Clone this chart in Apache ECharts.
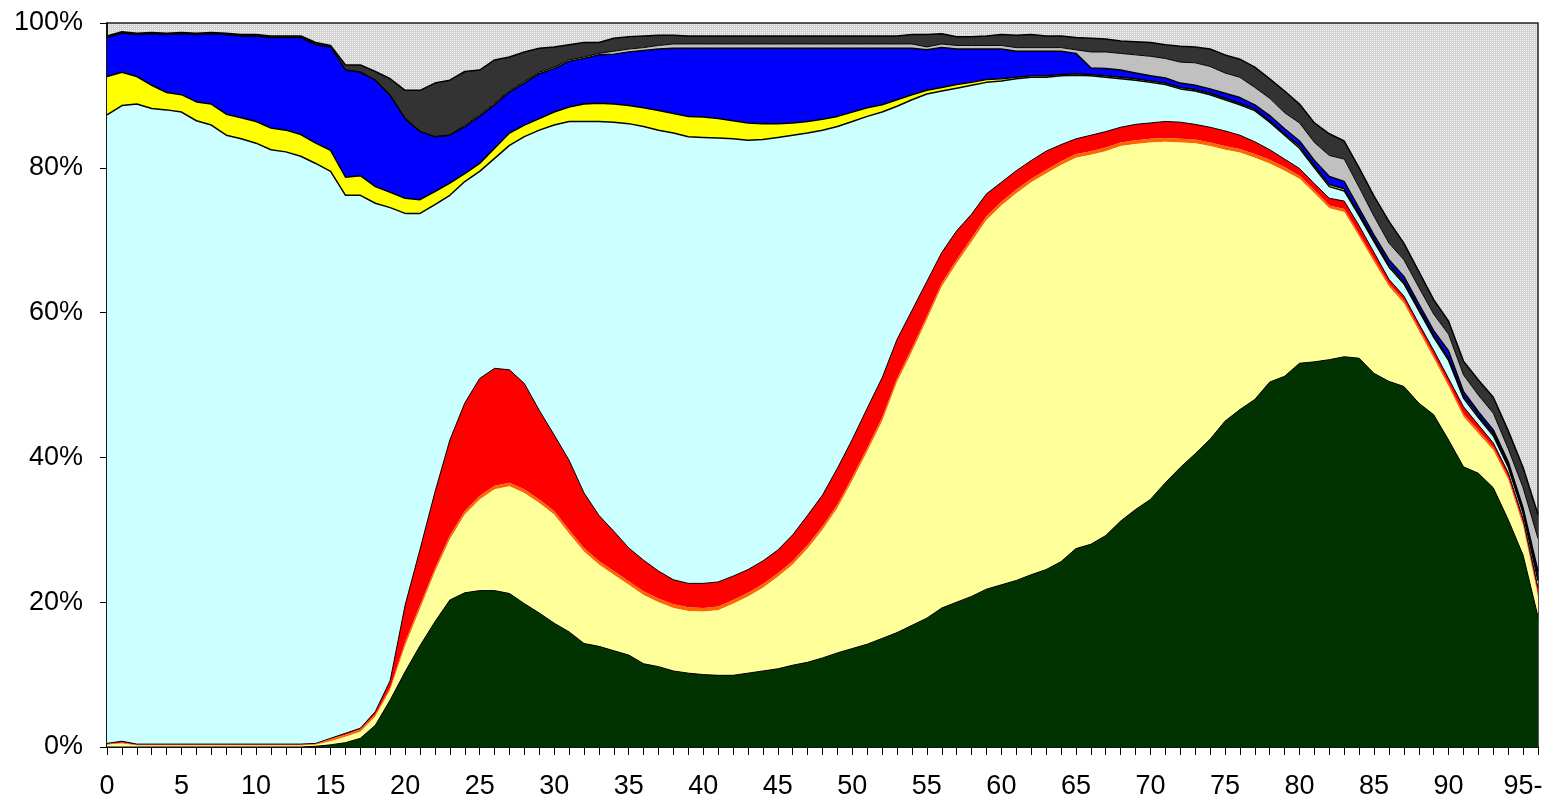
<!DOCTYPE html>
<html>
<head>
<meta charset="utf-8">
<script src="https://cdn.jsdelivr.net/npm/echarts@6/dist/echarts.min.js"></script>
<style>
  html, body { margin: 0; padding: 0; background: #fff; }
  #main { width: 1560px; height: 803px; }
</style>
</head>
<body>
<div id="main"></div>
<script>
// age categories 0 .. 95-, plus the closing point at the right edge
const ages = [];
for (let i = 0; i < 95; i++) ages.push(String(i));
ages.push('95-', '');

// shares (%) per age, bottom layer first
const green = [
  0, 0, 0, 0, 0, 0, 0, 0, 0, 0,
  0, 0, 0, 0, 0.1, 0.3, 0.6, 1.2, 3, 6.5,
  10.4, 14, 17.3, 20.3, 21.3, 21.6, 21.6, 21.2, 19.8, 18.5,
  17.1, 15.9, 14.3, 13.9, 13.3, 12.7, 11.5, 11.1, 10.5, 10.2,
  10, 9.9, 9.9, 10.2, 10.5, 10.8, 11.3, 11.7, 12.3, 13,
  13.6, 14.2, 15, 15.8, 16.8, 17.8, 19.2, 20, 20.8, 21.8,
  22.4, 23, 23.8, 24.5, 25.6, 27.4, 28, 29.2, 31.2, 32.8,
  34.2, 36.5, 38.6, 40.5, 42.5, 45, 46.6, 48, 50.4, 51.2,
  53, 53.2, 53.5, 53.9, 53.7, 51.6, 50.5, 49.8, 47.5, 45.9,
  42.4, 38.7, 37.8, 35.8, 31.4, 26.5, 18
];
const lightYellow = [
  0.3, 0.5, 0.2, 0.2, 0.2, 0.2, 0.2, 0.2, 0.2, 0.2,
  0.2, 0.2, 0.2, 0.2, 0.2, 0.5, 0.8, 0.9, 1.2, 1.4,
  3.6, 5.1, 6.9, 8.4, 10.8, 12.6, 14, 14.8, 15.3, 15.2,
  15, 13.6, 12.7, 11.3, 10.5, 9.7, 9.5, 8.9, 8.7, 8.6,
  8.7, 9, 9.9, 10.6, 11.5, 12.7, 13.9, 15.7, 17.7, 20,
  23.2, 26.6, 30, 34.6, 37.8, 41.2, 44.4, 46.8, 49, 51,
  52.4, 53.5, 54.2, 54.7, 54.8, 54, 53.8, 53.1, 51.8, 50.5,
  49.3, 47.1, 44.9, 42.9, 40.5, 37.5, 35.5, 33.4, 30.2, 28.4,
  25.5, 23.3, 20.9, 20, 16.8, 15.4, 13.1, 11.5, 10, 7.8,
  7.4, 6.9, 5.5, 5.2, 5.5, 4, 2.8
];
const orange = [
  0.1, 0.1, 0.1, 0.1, 0.1, 0.1, 0.1, 0.1, 0.1, 0.1,
  0.1, 0.1, 0.1, 0.1, 0.1, 0.3, 0.3, 0.3, 0.3, 0.3,
  0.5, 0.5, 0.5, 0.5, 0.5, 0.5, 0.5, 0.5, 0.5, 0.5,
  0.5, 0.5, 0.5, 0.5, 0.5, 0.5, 0.5, 0.5, 0.5, 0.5,
  0.5, 0.5, 0.5, 0.5, 0.5, 0.5, 0.5, 0.5, 0.5, 0.5,
  0.5, 0.5, 0.5, 0.5, 0.5, 0.5, 0.5, 0.5, 0.5, 0.5,
  0.5, 0.5, 0.5, 0.5, 0.5, 0.5, 0.5, 0.5, 0.5, 0.5,
  0.5, 0.5, 0.5, 0.5, 0.5, 0.5, 0.5, 0.5, 0.5, 0.5,
  0.4, 0.4, 0.4, 0.4, 0.4, 0.4, 0.4, 0.4, 0.4, 0.4,
  0.4, 0.4, 0.4, 0.4, 0.4, 0.4, 0.4
];
const red = [
  0.1, 0.2, 0.1, 0.1, 0.1, 0.1, 0.1, 0.1, 0.1, 0.1,
  0.1, 0.1, 0.1, 0.1, 0.1, 0.1, 0.2, 0.2, 0.4, 1,
  5.1, 7.7, 10.5, 13.2, 14.9, 16.2, 16.2, 15.6, 14.6, 12.3,
  10.5, 9.6, 7.6, 6.3, 5.5, 4.6, 4.3, 3.8, 3.4, 3.3,
  3.4, 3.4, 3.3, 3.2, 3.2, 3.2, 3.6, 4.1, 4.3, 5,
  5.2, 5.5, 5.5, 5.4, 5.2, 4.8, 4.2, 4, 3.3, 3.1,
  2.7, 2.6, 2.5, 2.6, 2.3, 2.1, 2.2, 2.2, 2.1, 2.2,
  2.2, 2.3, 2.3, 2.1, 2.1, 2.1, 1.9, 1.7, 1.4, 1.1,
  1, 0.9, 1, 1.1, 1.1, 0.9, 0.6, 0.6, 0.6, 0.7,
  0.7, 1, 0.8, 0.6, 0.6, 0.6, 0.8
];
const cyan = [
  86.8, 87.8, 88.4, 87.8, 87.6, 87.3, 86.1, 85.5, 84.1, 83.6,
  83, 82.1, 81.8, 81.2, 80.1, 78.3, 74.3, 73.6, 70.2, 65.3,
  54.1, 46.4, 39.7, 33.8, 30.6, 28.6, 29, 31, 34.1, 38.7,
  42.8, 46.8, 51.3, 54.4, 56.5, 58.6, 59.9, 60.9, 61.7, 61.7,
  61.6, 61.3, 60.4, 59.3, 58.2, 57, 55.2, 52.8, 50.4, 47.2,
  43.9, 40.3, 36.7, 32.2, 29.1, 25.9, 22.3, 19.7, 17.8, 15.4,
  14, 12.7, 11.5, 10.2, 9.5, 8.8, 8.2, 7.5, 6.7, 6.1,
  5.6, 5.1, 4.6, 4.6, 4.5, 4.3, 4.2, 4.3, 3.8, 3.3,
  2.8, 2.2, 1.6, 1.4, 1.4, 1.5, 1.7, 1.7, 1.8, 1.8,
  2.5, 1.2, 1, 1, 0.8, 0.8, 1
];
const yellow = [
  5.3, 4.6, 3.8, 3.2, 2.4, 2.4, 2.6, 2.9, 2.9, 2.9,
  3, 3, 3, 3, 2.8, 2.9, 2.5, 2.7, 2.3, 2.1,
  2.1, 1.9, 1.8, 1.7, 1.1, 1.1, 1.4, 1.7, 1.6, 1.6,
  1.8, 2, 2.4, 2.5, 2.5, 2.5, 2.6, 2.7, 2.7, 2.8,
  2.8, 2.7, 2.5, 2.4, 2.2, 1.9, 1.7, 1.6, 1.5, 1.4,
  1.3, 1.2, 1, 0.9, 0.7, 0.5, 0.5, 0.5, 0.4, 0.4,
  0.3, 0.2, 0.2, 0.2, 0.2, 0.2, 0.2, 0.2, 0.2, 0.2,
  0.2, 0.2, 0.2, 0.2, 0.2, 0.2, 0.2, 0.2, 0.2, 0.2,
  0.3, 0.3, 0.3, 0.3, 0.3, 0.3, 0.3, 0.3, 0.3, 0.3,
  0.3, 0.3, 0.3, 0.3, 0.3, 0.3, 0.3
];
const blue = [
  5.4, 5.4, 5.8, 7.1, 8, 8.4, 9.3, 9.7, 11, 11.3,
  11.8, 12.5, 12.8, 13.4, 13.6, 14.3, 14.8, 14.3, 14.7, 13.4,
  11, 9.4, 7.6, 6.6, 6.5, 6.5, 6, 5.7, 5.8, 6.2,
  6, 6.3, 6.3, 6.7, 6.9, 7.4, 7.9, 8.5, 9, 9.4,
  9.5, 9.7, 10, 10.3, 10.4, 10.4, 10.3, 10.1, 9.8, 9.4,
  8.8, 8.2, 7.8, 7.1, 6.4, 5.6, 5.5, 4.9, 4.6, 4.2,
  4.1, 3.6, 3.4, 3.4, 3.2, 2.8, 0.9, 1, 1, 0.8,
  0.7, 0.7, 0.6, 0.6, 0.6, 0.7, 0.8, 0.6, 0.7, 0.7,
  0.7, 0.7, 1.1, 1, 0.7, 0.6, 0.7, 0.7, 0.6, 0.6,
  1, 0.6, 0.5, 0.5, 0.4, 0.4, 1
];
const lightGray = [
  0, 0, 0, 0, 0, 0, 0, 0, 0, 0,
  0, 0, 0, 0, 0, 0, 0, 0, 0, 0,
  0, 0, 0, 0, 0.2, 0.2, 0.2, 0.2, 0.2, 0.2,
  0.2, 0.2, 0.2, 0.2, 0.4, 0.4, 0.4, 0.5, 0.6, 0.6,
  0.6, 0.6, 0.6, 0.6, 0.6, 0.6, 0.6, 0.6, 0.6, 0.6,
  0.6, 0.6, 0.6, 0.6, 0.6, 0.4, 0.5, 0.5, 0.5, 0.5,
  0.5, 0.5, 0.5, 0.5, 0.5, 0.5, 2.2, 2.3, 2.3, 2.5,
  2.7, 2.7, 2.9, 3.1, 3.1, 2.8, 2.8, 2.4, 2.4, 2.2,
  2.5, 2.5, 2.9, 3.1, 2.9, 2.6, 2.3, 2.3, 2.3, 2.3,
  2.3, 2.3, 2.3, 2.3, 1.8, 2.8, 4.5
];
const darkGray = [
  0.2, 0.2, 0.2, 0.2, 0.2, 0.2, 0.2, 0.2, 0.2, 0.2,
  0.2, 0.2, 0.2, 0.2, 0.3, 0.2, 0.7, 1, 1.2, 2.3,
  3.9, 5.7, 7.4, 7.6, 7.4, 6.2, 6, 4.6, 4.1, 3.3,
  2.8, 2.1, 2, 1.5, 1.8, 1.7, 1.6, 1.4, 1.2, 1.1,
  1.1, 1.1, 1.1, 1.1, 1.1, 1.1, 1.1, 1.1, 1.1, 1.1,
  1.1, 1.1, 1.1, 1.1, 1.3, 1.7, 1.4, 1.2, 1.2, 1.3,
  1.5, 1.7, 1.8, 1.6, 1.6, 1.7, 1.9, 1.8, 1.7, 1.8,
  1.9, 1.9, 2.2, 2.2, 2.4, 2.5, 2.5, 2.8, 2.7, 3,
  2.6, 2.7, 3, 2.5, 2.7, 2.8, 3, 2.3, 2.2, 2,
  1.8, 1.9, 2.1, 2.2, 2.5, 2.8, 3.3
];

const yTicks = [0, 20, 40, 60, 80, 100];

// dotted fill for the part above the stack
const dots = document.createElement('canvas');
dots.width = 2;
dots.height = 2;
const dctx = dots.getContext('2d');
dctx.fillStyle = '#d3d3d3';
dctx.fillRect(0, 0, 2, 2);
dctx.fillStyle = '#f2f2f2';
dctx.fillRect(0, 0, 1, 1);

const layers = [
  { name: 'green', data: green, color: '#003300', line: '#000', width: 1 },
  { name: 'lightYellow', data: lightYellow, color: '#FFFF99', line: '#FF6600', width: 0 },
  { name: 'orange', data: orange, color: '#FF6600', line: '#FF6600', width: 0 },
  { name: 'red', data: red, color: '#FF0000', line: '#000', width: 1 },
  { name: 'cyan', data: cyan, color: '#CCFFFF', line: '#000', width: 1.5 },
  { name: 'yellow', data: yellow, color: '#FFFF00', line: '#000', width: 1.5 },
  { name: 'blue', data: blue, color: '#0000FF', line: '#000', width: 1.5 },
  { name: 'lightGray', data: lightGray, color: '#C0C0C0', line: '#000', width: 1 },
  { name: 'darkGray', data: darkGray, color: '#333333', line: '#000', width: 1.5 }
];

const chart = echarts.init(document.getElementById('main'));

chart.setOption({
  animation: false,
  textStyle: { fontFamily: 'Liberation Sans, Arial, sans-serif' },
  grid: {
    left: 107,
    right: 22,
    top: 23,
    bottom: 56,
    show: true,
    backgroundColor: { image: dots, repeat: 'repeat' },
    borderColor: '#222',
    borderWidth: 1.5
  },
  xAxis: {
    type: 'category',
    data: ages,
    boundaryGap: false,
    axisLine: { lineStyle: { color: '#000', width: 1.5 } },
    axisTick: { show: true, interval: 0, length: 8, lineStyle: { color: '#000', width: 1 } },
    axisLabel: { interval: 4, color: '#000', fontSize: 27, margin: 26 },
    splitLine: { show: false }
  },
  yAxis: {
    type: 'value',
    min: yTicks[0],
    max: yTicks[yTicks.length - 1],
    interval: 20,
    axisLine: { show: true, lineStyle: { color: '#000', width: 1.5 } },
    axisTick: { show: true, length: 7, lineStyle: { color: '#000', width: 1 } },
    axisLabel: { formatter: '{value}%', color: '#000', fontSize: 27, margin: 24 },
    splitLine: { show: false }
  },
  series: layers.map((l, i) => ({
    name: l.name,
    type: 'line',
    stack: 'share',
    data: l.data,
    symbol: 'none',
    z: 20 - i,
    areaStyle: { color: l.color, opacity: 1 },
    lineStyle: { color: l.line, width: l.width },
    emphasis: { disabled: true }
  }))
});
</script>
</body>
</html>
